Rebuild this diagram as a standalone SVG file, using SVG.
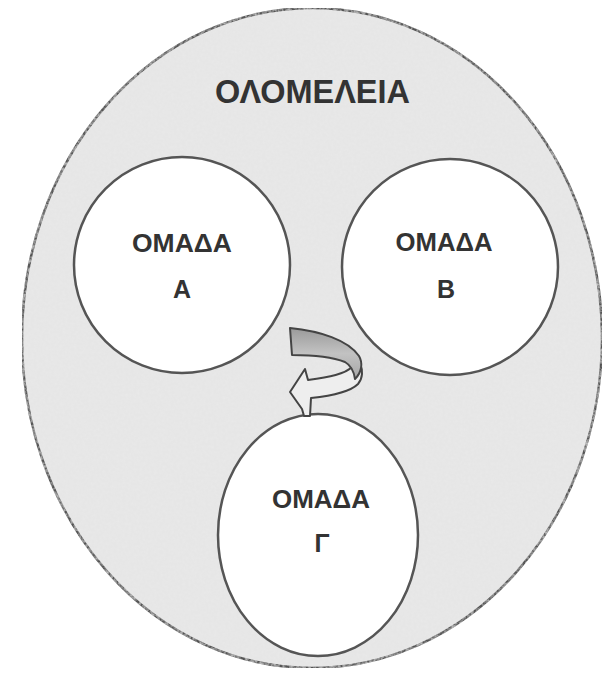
<svg xmlns="http://www.w3.org/2000/svg" width="612" height="673" viewBox="0 0 612 673">
  <defs>
    <filter id="grain" x="0" y="0" width="100%" height="100%">
      <feTurbulence type="fractalNoise" baseFrequency="0.35" numOctaves="2" seed="3" result="n"/>
      <feColorMatrix in="n" type="matrix" values="0 0 0 0 0.82  0 0 0 0 0.82  0 0 0 0 0.82  0 0 0 -1.1 0.75" result="c"/>
      <feComposite in="c" in2="SourceGraphic" operator="in" result="t"/>
      <feMerge><feMergeNode in="SourceGraphic"/><feMergeNode in="t"/></feMerge>
    </filter>
    <linearGradient id="band" x1="0" y1="0" x2="0" y2="1">
      <stop offset="0" stop-color="#9a9a9a"/>
      <stop offset="0.5" stop-color="#c2c2c2"/>
      <stop offset="1" stop-color="#a6a6a6"/>
    </linearGradient>
  </defs>
  <style>
    .outer { fill: #e6e6e6; stroke: #555; stroke-width: 2.5; }
    .group { fill: #ffffff; stroke: #555; stroke-width: 2.5; }
    .lbl { font-family: "Liberation Sans", Arial, sans-serif; font-weight: bold; fill: #333; text-anchor: middle; }
    .title { font-size: 34px; }
    .name { font-size: 25px; }
    .arrow-dark { fill: url(#band); stroke: #444; stroke-width: 2; stroke-linejoin: round; }
    .arrow-light { fill: #eeeeee; stroke: #444; stroke-width: 2; stroke-linejoin: round; }
  </style>
  <rect width="612" height="673" fill="#ffffff"/>

  <g id="plenary">
    <ellipse class="outer" cx="312" cy="338" rx="290" ry="330" filter="url(#grain)"/>
    <text class="lbl title" x="312.5" y="103" textLength="195" lengthAdjust="spacingAndGlyphs">ΟΛΟΜΕΛΕΙΑ</text>
  </g>

  <g id="group-a">
    <ellipse class="group" cx="182" cy="265" rx="108" ry="108"/>
    <text class="lbl name" x="182" y="252" textLength="100" lengthAdjust="spacingAndGlyphs">ΟΜΑΔΑ</text>
    <text class="lbl name" x="182" y="298">Α</text>
  </g>

  <g id="group-b">
    <ellipse class="group" cx="450" cy="267" rx="108" ry="108"/>
    <text class="lbl name" x="444" y="251" textLength="97" lengthAdjust="spacingAndGlyphs">ΟΜΑΔΑ</text>
    <text class="lbl name" x="446" y="298">Β</text>
  </g>

  <g id="group-c">
    <ellipse class="group" cx="318" cy="535" rx="100" ry="121"/>
    <text class="lbl name" x="321" y="508" textLength="98" lengthAdjust="spacingAndGlyphs">ΟΜΑΔΑ</text>
    <text class="lbl name" x="322" y="552">Γ</text>
  </g>

  <g id="connectors">
    <path class="arrow-light" d="M352,367 C345,374 330,377 308,380 L305,369 L290,392 L302,409 L304,416 L310,416 L311,398 C330,396 350,392 358,384 C363,378 363,370 360,364 Z"/>
    <path class="arrow-dark" d="M290,328 C320,331 348,340 359,356 C363,363 362,372 355,379 C354,372 352,366 345,362 C330,356 310,355 292,355 Z"/>
  </g>
</svg>
